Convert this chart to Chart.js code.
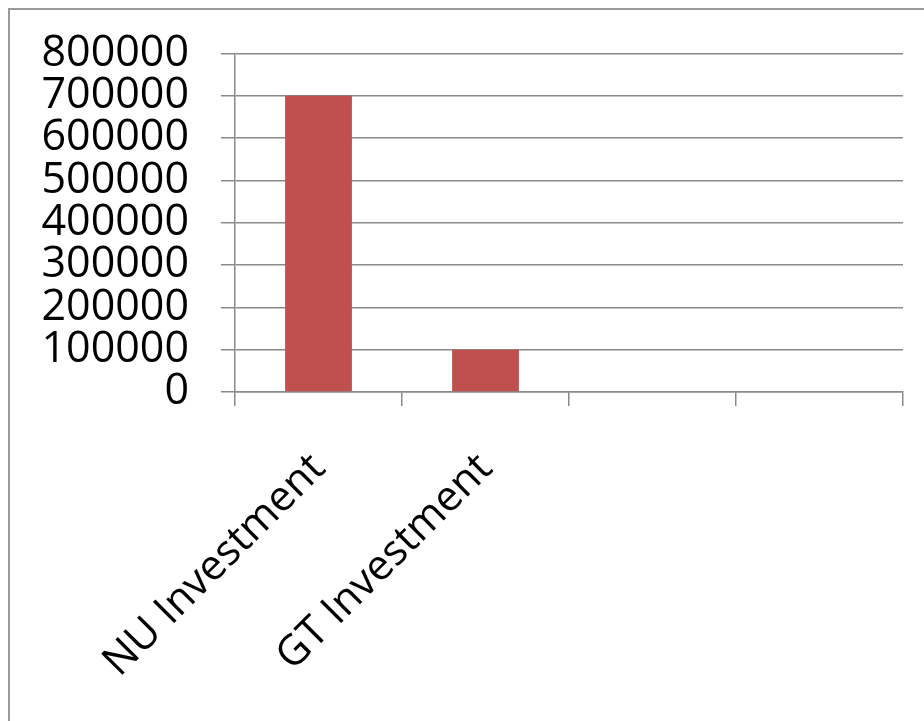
<!DOCTYPE html>
<html>
<head>
<meta charset="utf-8">
<script src="https://cdn.jsdelivr.net/npm/chart.js@4/dist/chart.umd.min.js"></script>
<style>
  html, body { margin: 0; padding: 0; background: #fff; }
  canvas { display: block; }
</style>
</head>
<body>
<canvas id="chart" width="924" height="721"></canvas>
<script>
// data
const categories = ['NU Investment', 'GT Investment', '', ''];
const investment = [700000, 100000, null, null];
const yTicks = [0, 100000, 200000, 300000, 400000, 500000, 600000, 700000, 800000];

const gridColor = '#8a8a8a';
const fontFamily = "'Open Sans', sans-serif";

// рамка вокруг диаграммы (только слева и сверху видна)
const frame = {
  id: 'frame',
  afterDraw(chart) {
    const ctx = chart.ctx;
    ctx.save();
    ctx.strokeStyle = '#9a9a9a';
    ctx.lineWidth = 2;
    ctx.beginPath();
    ctx.moveTo(9, 721);
    ctx.lineTo(9, 9);
    ctx.lineTo(924, 9);
    ctx.stroke();
    ctx.restore();
  }
};

new Chart(document.getElementById('chart'), {
  type: 'bar',
  data: {
    labels: categories,
    datasets: [{
      data: investment,
      backgroundColor: '#C0504D',
      borderWidth: 0,
      categoryPercentage: 1,
      barPercentage: 0.4
    }]
  },
  options: {
    responsive: false,
    animation: false,
    devicePixelRatio: 1,
    layout: { padding: { top: 52, right: 21, left: 0, bottom: 0 } },
    plugins: { legend: { display: false }, tooltip: { enabled: false } },
    scales: {
      x: {
        grid: {
          drawOnChartArea: false,
          drawTicks: true,
          tickLength: 14,
          color: gridColor,
          lineWidth: 1.5,
          offset: true
        },
        border: { color: gridColor, width: 1.5 },
        ticks: {
          color: '#000',
          font: { family: fontFamily, size: 42 },
          minRotation: 45,
          maxRotation: 45,
          autoSkip: false,
          padding: 38
        },
        afterFit(scale) { scale.height = 721 - 392; }
      },
      y: {
        min: 0,
        max: 800000,
        afterBuildTicks(scale) { scale.ticks = yTicks.map(v => ({ value: v })); },
        grid: {
          color: gridColor,
          lineWidth: 1.5,
          tickLength: 14
        },
        border: { color: gridColor, width: 1.5 },
        ticks: {
          color: '#000',
          font: { family: fontFamily, size: 43, lineHeight: 1 },
          autoSkip: false,
          padding: 32,
          callback: v => String(v)
        },
        afterFit(scale) { scale.width = 235; }
      }
    }
  },
  plugins: [frame]
});
</script>
</body>
</html>
